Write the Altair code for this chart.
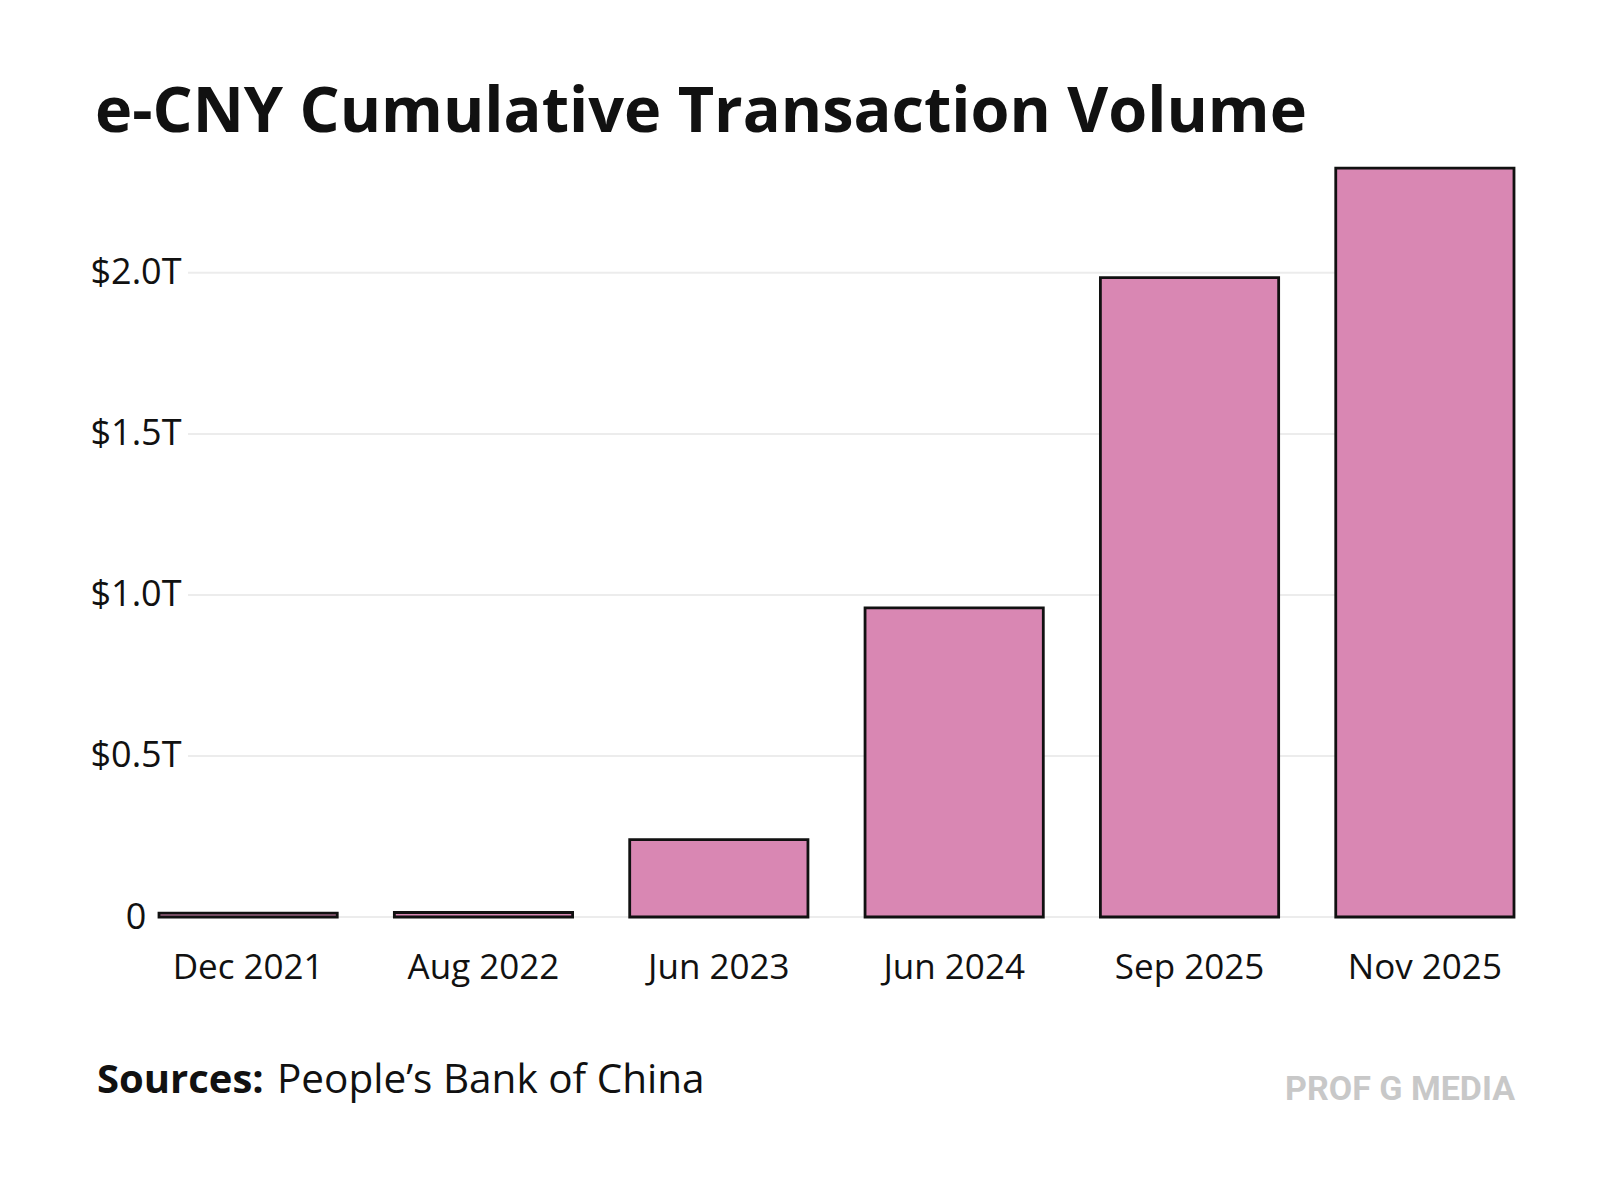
import altair as alt
import pandas as pd

periods = ["Dec 2021", "Aug 2022", "Jun 2023", "Jun 2024", "Sep 2025", "Nov 2025"]
values = [0.012, 0.014, 0.24, 0.96, 1.985, 2.325]
y_ticks = [0, 0.5, 1.0, 1.5, 2.0]

title_text = "e-CNY Cumulative Transaction Volume"
source_label = "Sources:"
source_text = "People\u2019s Bank of China"
brand_text = "PROF G MEDIA"

FONT = "Open Sans"
W, H = 1355, 773

df = pd.DataFrame({"period": periods, "value": values})
grid_df = pd.DataFrame({"v": y_ticks})

yscale = alt.Scale(domain=[0, 2.4], nice=False, zero=True)

grid = alt.Chart(grid_df).mark_rule(color="#ececec", strokeWidth=2).encode(
    y=alt.Y("v:Q", scale=yscale),
    x=alt.value(29),
    x2=alt.value(W),
)

bars = alt.Chart(df).mark_bar(
    color="#D987B3", stroke="#111111", strokeWidth=2.8
).encode(
    x=alt.X(
        "period:N",
        sort=periods,
        scale=alt.Scale(paddingInner=0.2426, paddingOuter=0),
        axis=alt.Axis(
            title=None, labelAngle=0, ticks=False, domain=False,
            labelFont=FONT, labelFontSize=35, labelColor="#111111",
            labelPadding=33, labelBaseline="top",
        ),
    ),
    y=alt.Y(
        "value:Q",
        scale=yscale,
        axis=alt.Axis(
            title=None, values=y_ticks, grid=False, ticks=False, domain=False,
            labelExpr="datum.value == 0 ? '0' : '$' + format(datum.value, '.1f') + 'T'",
            labelFont=FONT, labelFontSize=36, labelColor="#111111",
            labelAlign="center", labelBaseline="middle", labelPadding=23.5,
        ),
    ),
)

def txt(s, x, y, **kw):
    return alt.Chart(pd.DataFrame({"t": [s]})).mark_text(**kw).encode(
        text="t:N", x=alt.value(x), y=alt.value(y)
    )

title = txt(title_text, -64, -12, align="left", baseline="alphabetic",
            font=FONT, fontSize=63, fontWeight="bold", color="#111111")
src1 = txt(source_label, -62, 949, align="left", baseline="alphabetic",
           font=FONT, fontSize=40, fontWeight="bold", color="#111111")
src2 = txt(source_text, 118, 949, align="left", baseline="alphabetic",
           font=FONT, fontSize=40.5, color="#111111")
brand = txt(brand_text, 1356, 956, align="right", baseline="alphabetic",
            font="Roboto", fontSize=34, fontWeight="bold", color="#c8c8c8")

chart = alt.layer(grid, bars, title, src1, src2, brand).properties(
    width=W, height=H,
    autosize="none",
    padding={"left": 151, "top": 136, "right": 70, "bottom": 250},
    background="white",
).configure_view(stroke=None)

chart.save("out.html", embed_options={"renderer": "svg", "actions": False})
